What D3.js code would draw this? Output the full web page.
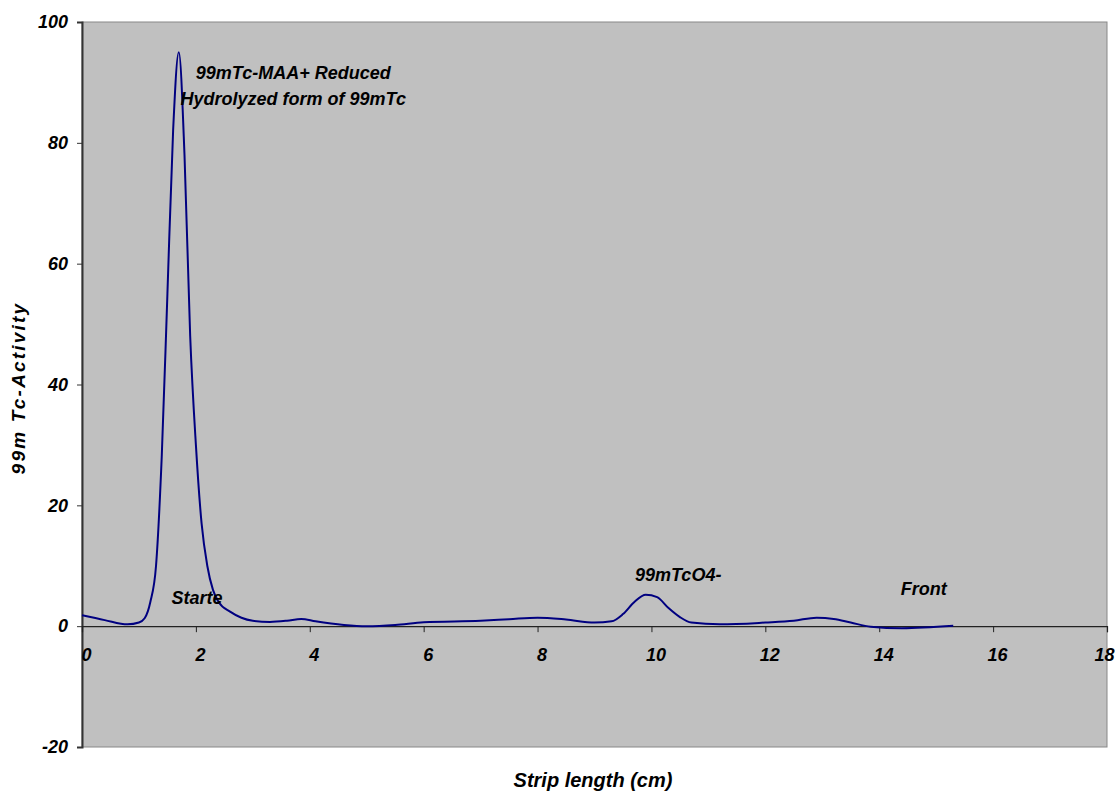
<!DOCTYPE html>
<html>
<head>
<meta charset="utf-8">
<script src="https://cdn.jsdelivr.net/npm/d3@7"></script>
<style>
  body { margin: 0; background: #fff; }
  svg text { font-family: "Liberation Sans", Arial, sans-serif; font-weight: bold; font-style: italic; fill: #000; }
</style>
</head>
<body>
<svg id="chart" width="1115" height="794"></svg>
<script>
// strip position (cm) and measured activity
const stripX = [0, 0.4, 0.8, 1.0, 1.1, 1.2, 1.3, 1.4, 1.5, 1.6, 1.7, 1.8, 1.9, 2.0, 2.1, 2.2, 2.3, 2.4, 2.6, 2.8,
  3.0, 3.3, 3.6, 3.85, 4.1, 4.6, 5.0, 5.5, 6.0, 7.0, 7.5, 8.0, 8.5, 9.0, 9.3, 9.5, 9.7, 9.9, 10.1, 10.3,
  10.5, 10.7, 11.2, 12.0, 12.5, 12.9, 13.2, 13.5, 13.85, 14.4, 15.3];
const activity = [1.8, 1.0, 0.3, 0.6, 1.3, 4, 10, 28, 55, 82, 95, 78, 48, 30, 17, 10, 6, 4, 2.4, 1.4,
  0.9, 0.7, 0.9, 1.2, 0.8, 0.2, 0, 0.2, 0.65, 0.9, 1.15, 1.4, 1.1, 0.6, 0.8, 2, 4, 5.2, 4.8, 3,
  1.5, 0.6, 0.3, 0.6, 0.9, 1.4, 1.2, 0.6, -0.1, -0.35, 0.05];

const xTicks = [0, 2, 4, 6, 8, 10, 12, 14, 16, 18];
const yTicks = [-20, 0, 20, 40, 60, 80, 100];

// annotations: [text, x, y] in data units
const notes = [
  ["99mTc-MAA+ Reduced", 3.71, 90.5],
  ["Hydrolyzed form of 99mTc", 3.71, 86.2],
  ["Starte", 2.02, 3.6],
  ["99mTcO4-", 10.47, 7.4],
  ["Front", 14.78, 5.1]
];

const svg = d3.select("#chart");
const margin = { left: 82, top: 22, right: 8, bottom: 47 };
const width = 1115 - margin.left - margin.right;
const height = 794 - margin.top - margin.bottom;

const x = d3.scaleLinear().domain([0, 18]).range([0, width]);
const y = d3.scaleLinear().domain([-20, 100]).range([height, 0]);

const g = svg.append("g").attr("transform", `translate(${margin.left},${margin.top})`);

// plot area
g.append("rect")
  .attr("width", width)
  .attr("height", height)
  .attr("fill", "#c0c0c0")
  .attr("stroke", "#888")
  .attr("stroke-width", 1);

// y axis
const yAxis = g.append("g")
  .call(d3.axisLeft(y).tickValues(yTicks).tickFormat(d => String(d)).tickSize(5).tickPadding(9));
yAxis.select(".domain").attr("stroke", "#333").attr("stroke-width", 2);
yAxis.selectAll(".tick line").attr("stroke", "#333");
yAxis.selectAll("text").style("font-size", "18px");

// x axis sits on y = 0
const xAxis = g.append("g")
  .attr("transform", `translate(0,${y(0)})`)
  .call(d3.axisBottom(x).tickValues(xTicks).tickSize(6).tickPadding(16));
xAxis.select(".domain").attr("stroke", "#222").attr("stroke-width", 1.2);
xAxis.selectAll(".tick line").attr("stroke", "#222");
xAxis.selectAll("text")
  .style("font-size", "18px")
  .attr("dx", d => d === 18 ? -3 : 4);

// curve
const line = d3.line()
  .x((d, i) => x(stripX[i]))
  .y(d => y(d))
  .curve(d3.curveMonotoneX);

g.append("path")
  .datum(activity)
  .attr("fill", "none")
  .attr("stroke", "#000080")
  .attr("stroke-width", 2)
  .attr("d", line);

// annotation text
g.selectAll(".note")
  .data(notes)
  .enter()
  .append("text")
  .attr("class", "note")
  .attr("x", d => x(d[1]))
  .attr("y", d => y(d[2]))
  .attr("text-anchor", "middle")
  .style("font-size", "18px")
  .text(d => d[0]);

// axis titles
svg.append("text")
  .attr("x", 593)
  .attr("y", 787)
  .attr("text-anchor", "middle")
  .style("font-size", "20px")
  .text("Strip length (cm)");

svg.append("text")
  .attr("transform", "translate(25,388) rotate(-90)")
  .attr("text-anchor", "middle")
  .style("font-size", "19px")
  .style("letter-spacing", "2.2px")
  .text("99m Tc-Activity");
</script>
</body>
</html>
